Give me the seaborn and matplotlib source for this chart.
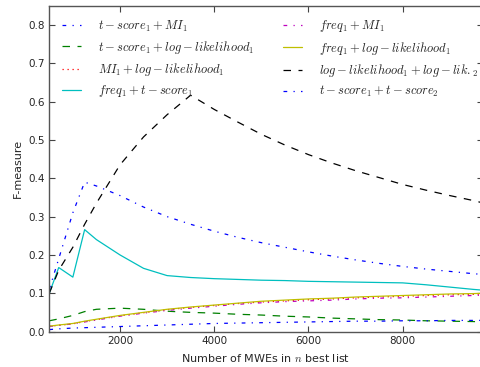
import numpy as np
import pandas as pd
import matplotlib
matplotlib.use("Agg")
import matplotlib.pyplot as plt
import seaborn as sns

# n best list sizes
n_best = [500, 700, 1000, 1250, 1500, 2000, 2500, 3000, 3500, 4000, 4500,
          5000, 5500, 6000, 6500, 7000, 7500, 8000, 8500, 9000, 9500, 9700]

tscore_mi = [0.11, 0.19, 0.31, 0.39, 0.38, 0.355, 0.325, 0.30, 0.28, 0.262, 0.246,
             0.232, 0.22, 0.208, 0.197, 0.187, 0.178, 0.17, 0.163, 0.157, 0.151, 0.149]
tscore_ll = [0.028, 0.033, 0.042, 0.052, 0.058, 0.061, 0.058, 0.053, 0.05, 0.048, 0.045,
             0.043, 0.04, 0.038, 0.035, 0.033, 0.031, 0.03, 0.028, 0.027, 0.026, 0.025]
mi_ll = [0.014, 0.016, 0.020, 0.026, 0.031, 0.041, 0.049, 0.057, 0.063, 0.068, 0.073,
         0.077, 0.080, 0.083, 0.085, 0.088, 0.090, 0.092, 0.094, 0.096, 0.097, 0.098]
freq_tscore = [0.10, 0.167, 0.142, 0.266, 0.24, 0.20, 0.165, 0.146, 0.141, 0.138, 0.136,
               0.134, 0.133, 0.131, 0.130, 0.129, 0.128, 0.127, 0.122, 0.116, 0.110, 0.108]
freq_mi = [0.013, 0.016, 0.020, 0.025, 0.030, 0.040, 0.048, 0.055, 0.061, 0.066, 0.071,
           0.075, 0.078, 0.080, 0.082, 0.085, 0.087, 0.088, 0.090, 0.092, 0.094, 0.095]
freq_ll = [0.014, 0.017, 0.021, 0.027, 0.032, 0.042, 0.050, 0.058, 0.064, 0.069, 0.074,
           0.079, 0.082, 0.085, 0.087, 0.090, 0.092, 0.094, 0.096, 0.098, 0.099, 0.100]
ll_ll = [0.10, 0.16, 0.22, 0.28, 0.335, 0.435, 0.508, 0.566, 0.617, 0.58, 0.547,
         0.515, 0.487, 0.462, 0.44, 0.42, 0.402, 0.384, 0.369, 0.355, 0.342, 0.336]
tscore_tscore = [0.005, 0.007, 0.009, 0.010, 0.011, 0.013, 0.015, 0.017, 0.019, 0.021, 0.022,
                 0.023, 0.024, 0.025, 0.026, 0.027, 0.027, 0.028, 0.028, 0.029, 0.029, 0.029]

labels = [r"$t-score_1+MI_1$",
          r"$t-score_1+log-likelihood_1$",
          r"$MI_1+log-likelihood_1$",
          r"$freq_1+t-score_1$",
          r"$freq_1+MI_1$",
          r"$freq_1+log-likelihood_1$",
          r"$log-likelihood_1+log-lik._2$",
          r"$t-score_1+t-score_2$"]
series = [tscore_mi, tscore_ll, mi_ll, freq_tscore, freq_mi, freq_ll, ll_ll, tscore_tscore]
colors = ["b", "g", "r", "c", "m", "y", "k", "b"]
dashes = [(3, 5, 1, 5), (6, 6), (1, 3), None, (3, 5, 1, 5), None, (6, 6), (3, 5, 1, 5)]

sns.set_style("ticks")
plt.rcParams["font.family"] = ["DejaVu Sans"]
plt.rcParams["mathtext.fontset"] = "cm"
plt.rcParams["xtick.direction"] = "in"
plt.rcParams["ytick.direction"] = "in"

fig = plt.figure(figsize=(4.81, 3.67), dpi=100)
ax = fig.add_axes([0.1025, 0.0967, 0.901, 0.887])

for s, lab, c, d in zip(series, labels, colors, dashes):
    sns.lineplot(x=n_best, y=s, ax=ax, color=c, label=lab, linewidth=0.9)
    if d is not None:
        ax.lines[-1].set_dashes(d)

ax.set_xlim(500, 9700)
ax.set_ylim(0, 0.85)
ax.set_xticks([2000, 4000, 6000, 8000])
ax.set_yticks(np.arange(0, 0.81, 0.1))
ax.tick_params(labelsize=7.5, length=4, width=0.8, top=True, right=True, color="#444444")
for sp in ax.spines.values():
    sp.set_color("#555555")
    sp.set_linewidth(1.0)
ax.set_xlabel(r"Number of MWEs in $n$ best list", fontsize=8)
ax.set_ylabel("F-measure", fontsize=8)

ax.legend(loc="upper left", ncol=2, frameon=False, fontsize=9,
          handlelength=1.5, handletextpad=1.4, columnspacing=2.3,
          labelspacing=0.42, borderaxespad=0.6)

fig.savefig("out.png", dpi=100)
